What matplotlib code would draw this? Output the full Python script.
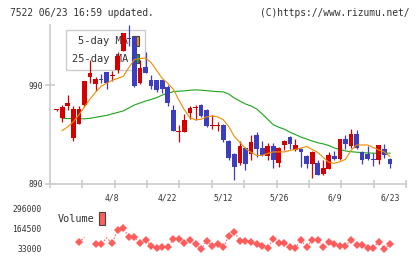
import numpy as np
import matplotlib.pyplot as plt
from matplotlib.patches import Patch

plt.rcParams['font.family'] = 'DejaVu Sans Mono'

# daily candles, index 0 .. 60 (last one is 6/23)
opens = [965, 957, 968.5, 937, 951, 969.5, 998, 991, 996, 1003,
         999, 1005, 1025, 1038, 1039, 992, 1008.5, 995, 995, 995,
         988, 965, 943, 943, 962, 967, 970, 965, 949, 949,
         950, 934, 920, 911, 926, 920, 940, 926, 918, 928,
         911, 929, 938, 924, 925, 918, 910, 911, 900.5, 905.5,
         918, 915, 936, 928, 941, 922.5, 920, 915.5, 914, 925.5,
         915]
highs = [966, 970, 980, 969, 969, 994, 1016, 998, 1001, 1003,
         1004, 1024, 1043, 1051, 1040, 1016, 1024, 1000, 995, 995,
         990, 970, 950, 961, 969, 970, 971, 966, 960, 953,
         951, 935, 921, 934, 927, 940, 943, 934, 932, 932,
         927, 935, 939, 936, 926, 919, 923, 914, 914, 922,
         923.5, 936, 940, 946, 945, 923, 928, 921, 929, 931,
         916]
lows = [964, 953, 965, 934, 951, 968, 992, 984, 992, 986,
        994, 1002, 1025, 1030, 988, 991, 1002, 986, 983, 982,
        969, 944, 933, 943, 956, 955, 958, 948, 946, 944,
        933, 914, 894, 909, 904, 914, 917, 918, 914, 906,
        907, 924, 925, 923, 907.5, 906, 896, 899, 899, 905,
        914, 914, 925, 926, 925, 910, 914, 908.6, 910, 916,
        906.6]
closes = [965, 968, 972, 966, 966, 994, 1002, 996, 995, 992,
          1000, 1020, 1043, 1037, 989, 1007, 1002, 989, 985, 986,
          972, 944, 944, 955, 967, 968, 959, 949, 950, 949.5,
          935, 916, 907, 928, 910, 933, 925, 919, 928, 914,
          926.5, 934, 930, 929, 922, 910, 922.5, 899, 906, 919,
          915, 936, 931, 941, 926, 914, 915, 914, 929, 919,
          910]

# moving averages as drawn, from index 1
ma5 = [944, 948, 953, 960, 968, 976, 983, 989, 992, 995,
       997, 999, 1008, 1016, 1017, 1017.6, 1013, 1005, 997, 992,
       986, 975, 965, 957, 955, 955.5, 958, 959, 958, 955,
       948, 938, 932, 926, 922, 919, 919, 921, 922.5, 922.5,
       922.5, 924, 925, 926.5, 928, 925, 922, 917, 912, 911,
       912.5, 915, 924, 929.5, 929.5, 929.5, 927, 924.5, 922.5, 918]
ma25 = [956.5, 956.3, 956.2, 956, 956, 956.5, 957.5, 958.5, 959.5, 961,
        962.5, 964, 967, 970, 972, 974, 975.5, 977.5, 980, 982,
        983.5, 984, 984.3, 985, 985.3, 985, 984.5, 984, 983.5, 983.3,
        981, 977, 974, 971, 969, 966, 961, 955.5, 950, 947.5,
        945.5, 942.5, 940, 937.5, 935.5, 933.5, 931.8, 930.6, 929, 926.5,
        925, 923.5, 922.7, 922.2, 921.8, 921.4, 921.2, 921.2, 921.2, 921.2]

volume = [None, None, None, None, 77000, 110000, None, 66000, 64000, 107000,
          70500, 158000, 169000, 114000, 114000, 70500, 92000, 54700, 37600, 44200,
          48100, 96800, 96800, 70500, 92000, 64000, 33000, 85600, 54700, 64000,
          44200, 120400, 146700, 85600, 85600, 77000, 64000, 54700, 41500, 98800,
          70500, 70500, 48100, 41500, 92000, 44200, 92000, 92000, 48100, 77000,
          64000, 54700, 54700, 92000, 59300, 59300, 41500, 41500, 81000, 33000,
          64000]
no_marker = [5, 9]

date_labels = ['4/8', '4/22', '5/12', '5/26', '6/9', '6/23']
date_pos = [10, 20, 30, 40, 50, 60]

RED = '#d40000'
BLUE = '#3d3dbf'
GRID = '#cccccc'
TXT = '#333333'

x = np.arange(len(opens))
o = np.array(opens, float)
c = np.array(closes, float)
up = c >= o
cols = [RED if u else BLUE for u in up]
body_lo = np.minimum(o, c)
body_h = np.maximum(np.abs(c - o), 1.0)

fig = plt.figure(figsize=(4.2, 2.59), dpi=100)
ax = fig.add_axes([50/420, 75/259, 356/420, 159/259])
xlim = (-1.2, 62.9)

ax.vlines(x, lows, highs, colors=cols, lw=0.9, zorder=4)
ax.bar(x, body_h, bottom=body_lo, width=0.85, color=cols, lw=0, zorder=4)
ax.plot(x[1:], ma5, color='#f08c00', lw=0.8, zorder=5, label='5-day MA')
ax.plot(x[1:], ma25, color='#1aa51a', lw=0.8, zorder=3, label='25-day MA')

handles = [Patch(facecolor='#f08c00', edgecolor='#444444', lw=0.8),
           Patch(facecolor='#1aa51a', edgecolor='#444444', lw=0.8)]
leg = ax.legend(handles, ['5-day MA', '25-day MA'], loc='upper left',
                bbox_to_anchor=(0.044, 0.969), borderaxespad=0, fancybox=False,
                edgecolor=GRID, framealpha=1, fontsize=7.5, markerfirst=False,
                handlelength=0.6, handleheight=1.0, handletextpad=0.4,
                labelspacing=0.7, borderpad=0.6)
leg.set_zorder(2)
for t in leg.get_texts():
    t.set_color(TXT)

ax.set_xlim(*xlim)
ax.set_ylim(890, 1051)
ax.set_yticks([890, 990])
ax.set_xticks(np.linspace(xlim[0], xlim[1], 12))
ax.set_xticklabels([])
for s in ['top', 'right']:
    ax.spines[s].set_visible(False)
for s in ['left', 'bottom']:
    ax.spines[s].set_color(GRID)
    ax.spines[s].set_linewidth(1.2)
ax.tick_params(axis='both', direction='inout', color=GRID, width=1.2,
               labelsize=5.8, labelcolor=TXT)
ax.tick_params(axis='y', length=6.5, pad=2)
ax.tick_params(axis='x', length=5.3)
for p, lab in zip(date_pos, date_labels):
    ax.text(p, -0.088, lab, transform=ax.get_xaxis_transform(),
            ha='center', va='center', fontsize=5.8, color=TXT)

# volume panel
ax2 = fig.add_axes([50/420, 4/259, 356/420, 52/259])
vol = np.array([np.nan if v is None else v for v in volume], float)
ax2.plot(x, vol, ls=(0, (1.5, 1.5)), color='#ff6666', lw=0.8)
mk = [i for i in range(len(vol)) if not np.isnan(vol[i]) and i not in no_marker]
ax2.plot(x[mk], vol[mk], ls='none', marker='D', ms=4.0, color='#ff5c5c', mew=0)
ax2.set_xlim(*xlim)
ax2.set_ylim(-6450, 335450)
ax2.set_yticks([33000, 164500, 296000])
ax2.set_yticklabels(['33000', '164500', '296000'])
ax2.set_xticks([])
for s in ax2.spines.values():
    s.set_visible(False)
ax2.tick_params(axis='y', length=0, pad=6, labelsize=5.8, labelcolor=TXT)
vleg = ax2.legend([Patch(facecolor='#ff5f5f', edgecolor='#444444', lw=0.8)], ['Volume'],
                  loc='upper left', bbox_to_anchor=(0.01, 0.9), borderaxespad=0,
                  frameon=False, fontsize=7.3, markerfirst=False,
                  handlelength=0.5, handleheight=1.6, handletextpad=0.5)
for t in vleg.get_texts():
    t.set_color(TXT)

fig.text(10/420, 1 - 12.5/259, '7522 06/23 16:59 updated.', fontsize=6.9,
         color=TXT, va='center')
fig.text(409/420, 1 - 12.5/259, '(C)https://www.rizumu.net/', fontsize=6.9,
         color=TXT, va='center', ha='right')

fig.savefig('out.png', dpi=100)
